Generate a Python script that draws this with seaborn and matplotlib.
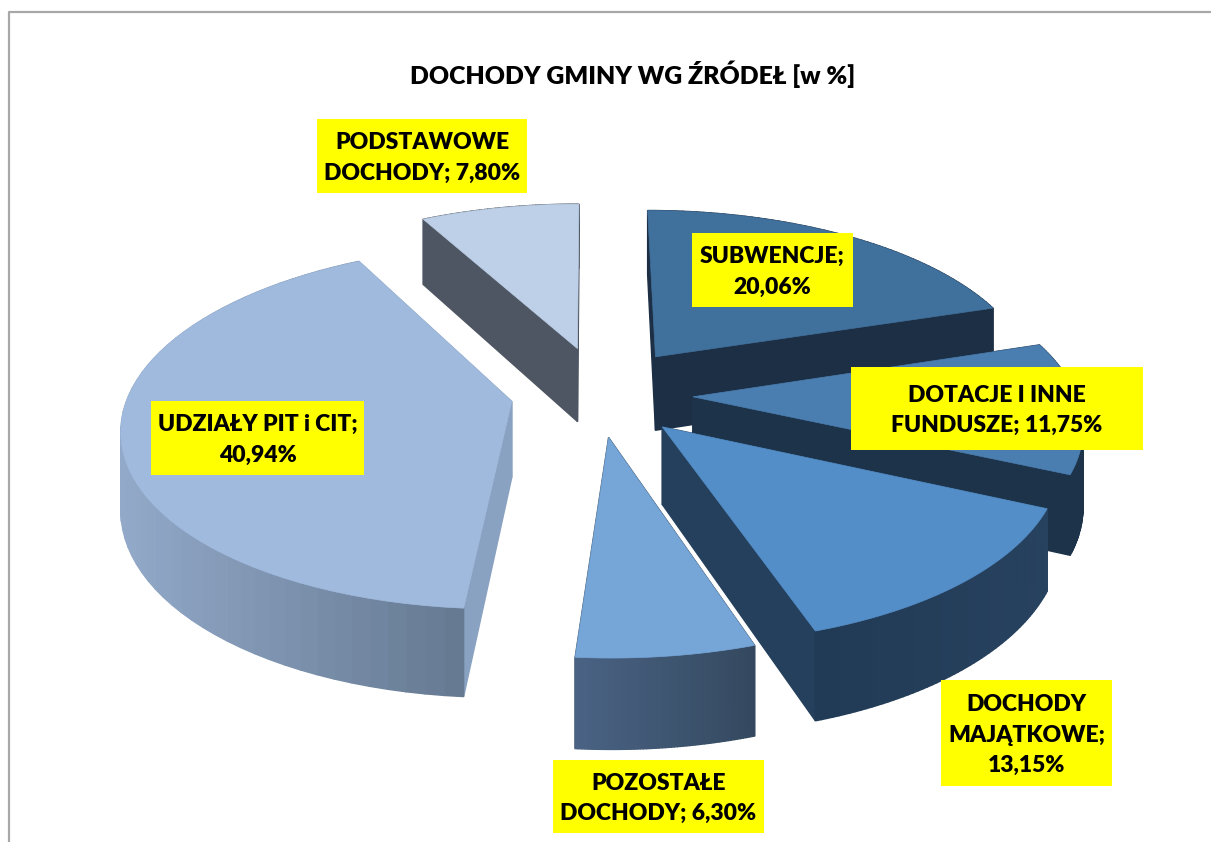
import numpy as np
import matplotlib
matplotlib.use('Agg')
import matplotlib.pyplot as plt
from matplotlib.patches import Rectangle
import seaborn as sns

# dane
names = ['SUBWENCJE;', 'DOTACJE I INNE\nFUNDUSZE;', 'DOCHODY\nMAJĄTKOWE;',
         'POZOSTAŁE\nDOCHODY;', 'UDZIAŁY PIT i CIT;', 'PODSTAWOWE\nDOCHODY;']
values = [20.06, 11.75, 13.15, 6.30, 40.94, 7.80]
title = 'DOCHODY GMINY WG ŹRÓDEŁ [w %]'

# wygląd wycinków
shift_u = [0.176, 0.268, 0.184, 0.047, -0.203, -0.034]
shift_v = [-0.251, -0.018, 0.148, 0.205, 0.008, -0.301]
top_colors = ['#40709c', '#4a7db0', '#538ec8', '#76a6d8', '#a0bade', '#bdd0e7']
face_colors = ['#1d2f45', '#1d3349', '#24405c', '#34495f', '#8aa2c2', '#4f5663']
rim_left = ['#1d2f45', '#1d3349', '#213a55', '#4a6384', '#92a9c9', '#4f5663']
rim_right = ['#1d2f45', '#1d3349', '#27425f', '#34495f', '#667a92', '#4f5663']
draw_order = [0, 1, 5, 4, 2, 3]
value_sep = ['\n', ' ', '\n', ' ', '\n', ' ']
# prostokąty etykiet: lewo, góra, szerokość, wysokość
label_boxes = [(692, 233, 161, 74), (851, 367, 292, 83), (941, 680, 171, 106),
               (553, 760, 211, 73), (151, 401, 213, 74), (317, 119, 210, 74)]

sns.set_theme(style='white')
plt.rcParams['font.family'] = ['Lato', 'DejaVu Sans']

cx, cy = 590, 400
rx, ry = 385, 178
depth = 76
k = 0.14


def project(u, v, z=0.0):
    s = 1 / (1 - k * v)
    return cx + rx * u * s, cy + ry * v * s + depth * z * s


def wall(ax, ua, va, ub, vb, color):
    xa, ya = project(ua, va)
    xb, yb = project(ub, vb)
    xc, yc = project(ub, vb, 1)
    xd, yd = project(ua, va, 1)
    ax.fill([xa, xb, xc, xd], [ya, yb, yc, yd], color=color, lw=1.0)


fig = plt.figure(figsize=(12.11, 8.42), dpi=100)
ax = fig.add_axes([0, 0, 1, 1])
ax.set_xlim(0, 1211)
ax.set_ylim(842, 0)
ax.axis('off')

ax.plot([8.5, 8.5, 1211], [842, 12, 12], color='#a8a8a8', lw=1.6)

edges = np.concatenate([[0], np.cumsum(values)]) / np.sum(values) * 2 * np.pi

for i in draw_order:
    t1, t2 = edges[i], edges[i + 1]
    u0, v0 = shift_u[i], shift_v[i]
    theta = np.linspace(t1, t2, 60)
    u = u0 + np.sin(theta)
    v = v0 - np.cos(theta)

    # ściany boczne przy środku
    for t in (t1, t2):
        wall(ax, u0, v0, u0 + np.sin(t), v0 - np.cos(t), face_colors[i])

    # ściana zewnętrzna z gradientem
    pal = sns.blend_palette([rim_left[i], rim_right[i]], len(theta))
    xs = project(u, v)[0]
    xmin, xmax = xs.min(), xs.max()
    for j in range(len(theta) - 1):
        c = pal[int((xs[j] - xmin) / max(xmax - xmin, 1) * (len(theta) - 1))]
        wall(ax, u[j], v[j], u[j + 1], v[j + 1], c)

    # wierzch wycinka
    px, py = project(np.r_[u0, u], np.r_[v0, v])
    ax.fill(px, py, color=top_colors[i], lw=0.5)

# etykiety
for i, box in enumerate(label_boxes):
    x, y, w, h = box
    ax.add_patch(Rectangle((x, y), w, h, fc='#ffff00', ec='none', zorder=5))
    txt = names[i] + value_sep[i] + f'{values[i]:.2f}'.replace('.', ',') + '%'
    ax.text(x + w / 2, y + h / 2 + 2, txt, ha='center', va='center', fontsize=16.5,
            fontweight='heavy', color='black', linespacing=1.55, zorder=6)

ax.text(633, 74, title, ha='center', va='center', fontsize=17.9, fontweight='heavy', color='black')

fig.savefig('out.png', dpi=100)
